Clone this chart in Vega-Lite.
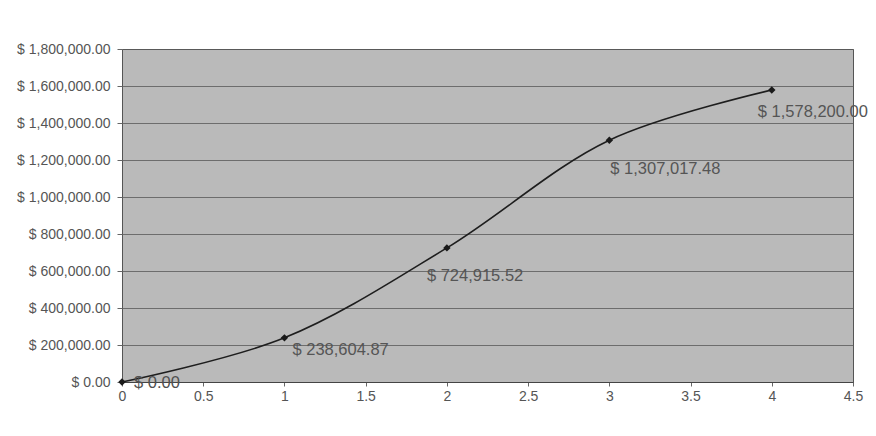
{
  "$schema": "https://vega.github.io/schema/vega-lite/v6.json",
  "width": 731,
  "height": 333,
  "autosize": "none",
  "padding": {"left": 122, "top": 49, "right": 23, "bottom": 54},
  "background": "white",
  "config": {
    "font": "Liberation Sans",
    "view": {"fill": "#bababa", "stroke": "#555555", "strokeWidth": 1}
  },
  "data": {
    "values": [
      {"period": 0, "value": 0},
      {"period": 1, "value": 238604.87},
      {"period": 2, "value": 724915.52},
      {"period": 3, "value": 1307017.48},
      {"period": 4, "value": 1578200.00}
    ]
  },
  "transform": [
    {"calculate": "'$ ' + format(datum.value, ',.2f')", "as": "label"}
  ],
  "encoding": {
    "x": {
      "field": "period", "type": "quantitative",
      "scale": {"domain": [0, 4.5], "nice": false, "zero": false},
      "axis": {
        "title": null, "values": [0, 0.5, 1, 1.5, 2, 2.5, 3, 3.5, 4, 4.5],
        "format": "~g",
        "grid": false, "domain": true, "domainColor": "#444", "tickColor": "#666", "tickSize": 4,
        "labelFontSize": 14, "labelColor": "#555", "labelPadding": 3, "labelFlush": false
      }
    },
    "y": {
      "field": "value", "type": "quantitative",
      "scale": {"domain": [0, 1800000], "nice": false},
      "axis": {
        "title": null, "values": [0, 200000, 400000, 600000, 800000, 1000000, 1200000, 1400000, 1600000, 1800000],
        "labelExpr": "'$ ' + format(datum.value, ',.2f')",
        "grid": true, "gridColor": "#5a5a5a", "gridWidth": 1, "gridOpacity": 0.8,
        "domain": false, "tickColor": "#666", "tickSize": 5,
        "labelFontSize": 14, "labelColor": "#555", "labelPadding": 7
      }
    }
  },
  "layer": [
    {"mark": {"type": "line", "interpolate": "catmull-rom", "color": "#1e1e1e", "strokeWidth": 1.6}},
    {"mark": {"type": "point", "shape": "diamond", "filled": true, "color": "#1a1a1a", "size": 55, "opacity": 1}},
    {
      "transform": [{"filter": "datum.period == 0"}],
      "mark": {"type": "text", "align": "left", "baseline": "middle", "dx": 12, "dy": 1, "fontSize": 16.5, "color": "#505050"},
      "encoding": {"text": {"field": "label"}}
    },
    {
      "transform": [{"filter": "datum.period == 1"}],
      "mark": {"type": "text", "align": "left", "baseline": "middle", "dx": 8, "dy": 12, "fontSize": 16.5, "color": "#555"},
      "encoding": {"text": {"field": "label"}}
    },
    {
      "transform": [{"filter": "datum.period == 2"}],
      "mark": {"type": "text", "align": "left", "baseline": "middle", "dx": -20, "dy": 28, "fontSize": 16.5, "color": "#555"},
      "encoding": {"text": {"field": "label"}}
    },
    {
      "transform": [{"filter": "datum.period == 3"}],
      "mark": {"type": "text", "align": "left", "baseline": "middle", "dx": 1, "dy": 29, "fontSize": 16.5, "color": "#555"},
      "encoding": {"text": {"field": "label"}}
    },
    {
      "transform": [{"filter": "datum.period == 4"}],
      "mark": {"type": "text", "align": "left", "baseline": "middle", "dx": -14, "dy": 22, "fontSize": 16.5, "color": "#555"},
      "encoding": {"text": {"field": "label"}}
    }
  ]
}
